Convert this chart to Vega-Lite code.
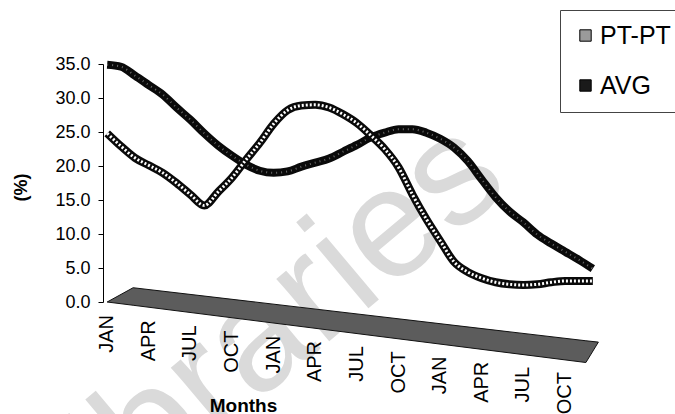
{
  "$schema": "https://vega.github.io/schema/vega-lite/v6.json",
  "width": 494,
  "height": 238,
  "autosize": "none",
  "padding": {"left": 103, "top": 64, "right": 78, "bottom": 112},
  "background": "white",
  "config": {"view": {"stroke": null}, "font": "Liberation Sans"},
  "datasets": {
    "series": [
      {"m": 0, "month": "JAN", "series": "PT-PT", "pct": 24.8},
      {"m": 1, "month": "FEB", "series": "PT-PT", "pct": 22.9},
      {"m": 2, "month": "MAR", "series": "PT-PT", "pct": 21.2},
      {"m": 3, "month": "APR", "series": "PT-PT", "pct": 20.1},
      {"m": 4, "month": "MAY", "series": "PT-PT", "pct": 19.0},
      {"m": 5, "month": "JUN", "series": "PT-PT", "pct": 17.5},
      {"m": 6, "month": "JUL", "series": "PT-PT", "pct": 15.8},
      {"m": 7, "month": "AUG", "series": "PT-PT", "pct": 14.2},
      {"m": 8, "month": "SEP", "series": "PT-PT", "pct": 16.2},
      {"m": 9, "month": "OCT", "series": "PT-PT", "pct": 18.3},
      {"m": 10, "month": "NOV", "series": "PT-PT", "pct": 20.9},
      {"m": 11, "month": "DEC", "series": "PT-PT", "pct": 23.4},
      {"m": 12, "month": "JAN", "series": "PT-PT", "pct": 26.2},
      {"m": 13, "month": "FEB", "series": "PT-PT", "pct": 28.2},
      {"m": 14, "month": "MAR", "series": "PT-PT", "pct": 28.9},
      {"m": 15, "month": "APR", "series": "PT-PT", "pct": 29.0},
      {"m": 16, "month": "MAY", "series": "PT-PT", "pct": 28.6},
      {"m": 17, "month": "JUN", "series": "PT-PT", "pct": 27.6},
      {"m": 18, "month": "JUL", "series": "PT-PT", "pct": 26.3},
      {"m": 19, "month": "AUG", "series": "PT-PT", "pct": 24.5},
      {"m": 20, "month": "SEP", "series": "PT-PT", "pct": 22.5},
      {"m": 21, "month": "OCT", "series": "PT-PT", "pct": 19.8},
      {"m": 22, "month": "NOV", "series": "PT-PT", "pct": 15.8},
      {"m": 23, "month": "DEC", "series": "PT-PT", "pct": 12.2},
      {"m": 24, "month": "JAN", "series": "PT-PT", "pct": 9.0},
      {"m": 25, "month": "FEB", "series": "PT-PT", "pct": 5.9},
      {"m": 26, "month": "MAR", "series": "PT-PT", "pct": 4.4},
      {"m": 27, "month": "APR", "series": "PT-PT", "pct": 3.5},
      {"m": 28, "month": "MAY", "series": "PT-PT", "pct": 2.9},
      {"m": 29, "month": "JUN", "series": "PT-PT", "pct": 2.6},
      {"m": 30, "month": "JUL", "series": "PT-PT", "pct": 2.5},
      {"m": 31, "month": "AUG", "series": "PT-PT", "pct": 2.6},
      {"m": 32, "month": "SEP", "series": "PT-PT", "pct": 2.9},
      {"m": 33, "month": "OCT", "series": "PT-PT", "pct": 3.1},
      {"m": 34, "month": "NOV", "series": "PT-PT", "pct": 3.1},
      {"m": 35, "month": "DEC", "series": "PT-PT", "pct": 3.1},
      {"m": 0, "month": "JAN", "series": "AVG", "pct": 34.9},
      {"m": 1, "month": "FEB", "series": "AVG", "pct": 34.6},
      {"m": 2, "month": "MAR", "series": "AVG", "pct": 33.3},
      {"m": 3, "month": "APR", "series": "AVG", "pct": 31.9},
      {"m": 4, "month": "MAY", "series": "AVG", "pct": 30.5},
      {"m": 5, "month": "JUN", "series": "AVG", "pct": 28.6},
      {"m": 6, "month": "JUL", "series": "AVG", "pct": 26.8},
      {"m": 7, "month": "AUG", "series": "AVG", "pct": 24.8},
      {"m": 8, "month": "SEP", "series": "AVG", "pct": 23.0},
      {"m": 9, "month": "OCT", "series": "AVG", "pct": 21.5},
      {"m": 10, "month": "NOV", "series": "AVG", "pct": 20.2},
      {"m": 11, "month": "DEC", "series": "AVG", "pct": 19.3},
      {"m": 12, "month": "JAN", "series": "AVG", "pct": 19.0},
      {"m": 13, "month": "FEB", "series": "AVG", "pct": 19.2},
      {"m": 14, "month": "MAR", "series": "AVG", "pct": 19.9},
      {"m": 15, "month": "APR", "series": "AVG", "pct": 20.5},
      {"m": 16, "month": "MAY", "series": "AVG", "pct": 21.1},
      {"m": 17, "month": "JUN", "series": "AVG", "pct": 22.1},
      {"m": 18, "month": "JUL", "series": "AVG", "pct": 23.1},
      {"m": 19, "month": "AUG", "series": "AVG", "pct": 24.2},
      {"m": 20, "month": "SEP", "series": "AVG", "pct": 24.9},
      {"m": 21, "month": "OCT", "series": "AVG", "pct": 25.4},
      {"m": 22, "month": "NOV", "series": "AVG", "pct": 25.4},
      {"m": 23, "month": "DEC", "series": "AVG", "pct": 24.9},
      {"m": 24, "month": "JAN", "series": "AVG", "pct": 24.0},
      {"m": 25, "month": "FEB", "series": "AVG", "pct": 22.7},
      {"m": 26, "month": "MAR", "series": "AVG", "pct": 20.7},
      {"m": 27, "month": "APR", "series": "AVG", "pct": 18.0},
      {"m": 28, "month": "MAY", "series": "AVG", "pct": 15.4},
      {"m": 29, "month": "JUN", "series": "AVG", "pct": 13.3},
      {"m": 30, "month": "JUL", "series": "AVG", "pct": 11.7},
      {"m": 31, "month": "AUG", "series": "AVG", "pct": 9.9},
      {"m": 32, "month": "SEP", "series": "AVG", "pct": 8.6},
      {"m": 33, "month": "OCT", "series": "AVG", "pct": 7.4},
      {"m": 34, "month": "NOV", "series": "AVG", "pct": 6.2},
      {"m": 35, "month": "DEC", "series": "AVG", "pct": 4.9}
    ],
    "floor": [
      {"m": 0, "pct": 0, "pct_low": 0},
      {"m": 1.87, "pct": 2.1, "pct_low": -0.48},
      {"m": 34.5, "pct": -5.7, "pct_low": -8.9},
      {"m": 35.4, "pct": -5.9, "pct_low": -5.9}
    ],
    "stamp": [
      {"m": 29.2, "pct": 16.8, "word": "Libraries"}
    ]
  },
  "encoding": {
    "x": {
      "field": "m", "type": "quantitative", "title": "Months",
      "scale": {"domain": [-0.3, 35.3], "nice": false, "zero": false},
      "axis": {
        "values": [0, 3, 6, 9, 12, 15, 18, 21, 24, 27, 30, 33],
        "labels": false, "ticks": false, "tickSize": 0, "domain": false, "grid": false, "zindex": 1,
        "titleFontSize": 19, "titleFontWeight": "bold", "titleColor": "#000",
        "titleX": 140, "titleY": 109, "titleBaseline": "alphabetic", "titleAlign": "center"
      }
    },
    "y": {
      "field": "pct", "type": "quantitative", "title": "(%)",
      "scale": {"domain": [0, 35], "nice": false},
      "axis": {
        "values": [0, 5, 10, 15, 20, 25, 30, 35], "format": ".1f",
        "labelFontSize": 18, "labelColor": "#000", "labelPadding": 8,
        "tickSize": 5, "tickColor": "#000", "domainColor": "#000", "grid": false, "zindex": 1,
        "titleFontSize": 18, "titleFontWeight": "bold", "titleColor": "#000",
        "titleX": -82, "titleY": 123, "titleBaseline": "middle", "titleAlign": "center", "titleAngle": 270
      }
    }
  },
  "layer": [
    {
      "data": {"name": "stamp"},
      "mark": {"type": "text", "fontSize": 155, "angle": 320, "align": "right", "baseline": "alphabetic", "color": "#dadada"},
      "encoding": {"text": {"field": "word"}}
    },
    {
      "data": {"name": "floor"},
      "mark": {"type": "area", "fill": "#5c5c5c", "stroke": "#111", "strokeWidth": 1},
      "encoding": {"y2": {"field": "pct_low"}}
    },
    {
      "data": {"name": "series"},
      "transform": [{"filter": "datum.series === 'PT-PT' && datum.m % 3 === 0 && datum.m <= 33"}],
      "mark": {
        "type": "text", "angle": 270, "align": "right", "baseline": "middle",
        "fontSize": 20, "color": "#000",
        "dx": {"expr": "-(13 + 1.73 * datum.m)"}
      },
      "encoding": {"y": {"datum": 0}, "text": {"field": "month"}}
    },
    {
      "data": {"name": "series"},
      "transform": [{"filter": "datum.series === 'AVG'"}],
      "mark": {"type": "line", "interpolate": "monotone", "stroke": "#0a0a0a", "strokeWidth": 8, "strokeCap": "butt", "strokeJoin": "round"}
    },
    {
      "data": {"name": "series"},
      "transform": [{"filter": "datum.series === 'AVG'"}],
      "mark": {"type": "line", "interpolate": "monotone", "stroke": "#6a6a6a", "strokeWidth": 2, "strokeDash": [1, 4]}
    },
    {
      "data": {"name": "series"},
      "transform": [{"filter": "datum.series === 'PT-PT'"}],
      "mark": {"type": "line", "interpolate": "monotone", "stroke": "#0a0a0a", "strokeWidth": 8, "strokeCap": "butt", "strokeJoin": "round"}
    },
    {
      "data": {"name": "series"},
      "transform": [{"filter": "datum.series === 'PT-PT'"}],
      "mark": {"type": "line", "interpolate": "monotone", "stroke": "#ffffff", "strokeWidth": 3, "strokeDash": [2, 2]}
    },
    {
      "data": {"name": "series"},
      "mark": {"type": "point", "shape": "square", "filled": true, "opacity": 0},
      "encoding": {
        "color": {
          "field": "series", "type": "nominal",
          "scale": {"domain": ["PT-PT", "AVG"], "range": ["#9a9a9a", "#1a1a1a"]},
          "legend": {
            "title": null, "orient": "none", "legendX": 457, "legendY": -54,
            "symbolType": "square", "symbolSize": 130, "symbolStrokeColor": "#000", "symbolStrokeWidth": 1,
            "symbolOpacity": 1, "symbolOffset": 0,
            "labelFontSize": 25, "labelColor": "#000", "labelOffset": 2,
            "padding": 13, "rowPadding": 24, "strokeColor": "#444", "fillColor": "#fff"
          }
        }
      }
    }
  ]
}
